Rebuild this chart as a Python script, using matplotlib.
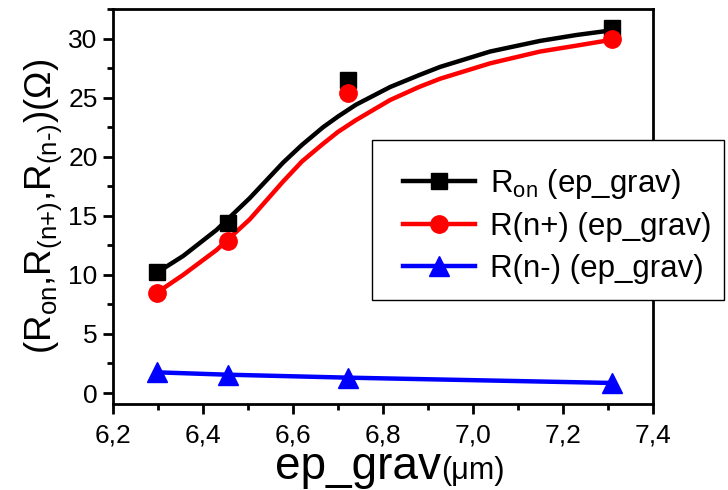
import numpy as np
import matplotlib.pyplot as plt
from matplotlib.lines import Line2D
from matplotlib.patches import Rectangle
from matplotlib.ticker import MultipleLocator, FuncFormatter

plt.rcParams['font.family'] = ['Liberation Sans', 'DejaVu Sans']
plt.rcParams['mathtext.fontset'] = 'custom'
plt.rcParams['mathtext.rm'] = 'Liberation Sans'
plt.rcParams['mathtext.it'] = 'Liberation Sans'

# measured points
ep_grav = [6.298, 6.455, 6.722, 7.309]
r_on = [10.2, 14.4, 26.5, 30.9]
r_nplus = [8.5, 12.9, 25.4, 30.0]
r_nminus = [1.75, 1.55, 1.3, 0.85]

# fitted curves
fit_x = [6.298, 6.356, 6.430, 6.504, 6.578, 6.620, 6.667, 6.700, 6.740,
         6.816, 6.880, 6.927, 7.038, 7.149, 7.230, 7.309]
fit_on = [10.2, 11.6, 13.8, 16.5, 19.5, 21.0, 22.5, 23.4, 24.4,
          25.9, 26.9, 27.6, 28.9, 29.8, 30.3, 30.7]
fit_nplus = [8.5, 10.0, 12.1, 14.7, 17.9, 19.6, 21.1, 22.1, 23.1,
             24.8, 25.9, 26.6, 27.9, 28.9, 29.4, 29.9]

labels = [r'R$_{\mathregular{on}}$ (ep_grav)', 'R(n+) (ep_grav)', 'R(n-) (ep_grav)']

fig = plt.figure(figsize=(7.28, 4.9), dpi=100)
ax = fig.add_axes([113 / 728, 1 - 404 / 490, 540 / 728, 395 / 490])

lw = 3.2
ax.plot(fit_x, fit_on, color='black', lw=lw, zorder=2)
ax.plot(fit_x, fit_nplus, color='red', lw=lw, zorder=2)
ax.plot(ep_grav, r_on, ls='none', marker='s', ms=11.5, color='black', zorder=3)
ax.plot(ep_grav, r_nplus, ls='none', marker='o', ms=12.5, color='red', zorder=3)
ax.plot(ep_grav, r_nminus, color='blue', lw=lw, marker='^', ms=15, zorder=3)

ax.set_xlim(6.2, 7.4)
ax.set_ylim(-0.93, 32.5)
ax.xaxis.set_major_locator(MultipleLocator(0.2))
ax.xaxis.set_minor_locator(MultipleLocator(0.1))
ax.yaxis.set_major_locator(MultipleLocator(5))
ax.yaxis.set_minor_locator(MultipleLocator(2.5))
ax.xaxis.set_major_formatter(FuncFormatter(lambda v, p: f'{v:.1f}'.replace('.', ',')))
ax.yaxis.set_major_formatter(FuncFormatter(lambda v, p: f'{v:.0f}'))

for s in ax.spines.values():
    s.set_linewidth(2)
ax.tick_params(which='both', direction='out', top=False, right=False, width=2, labelsize=19)
ax.tick_params(which='major', length=7)
ax.tick_params(which='minor', length=4.5)
ax.tick_params(axis='x', which='major', pad=7)
ax.tick_params(axis='y', which='major', pad=4)

ax.set_ylabel(r'(R$_{\mathregular{on}}$,R$_{\text{(n+)}}$,R$_{\text{(n-)}}$)(Ω)', fontsize=26.5)
ax.yaxis.set_label_coords(-0.09, 0.5)

# x label: smaller unit part
ax.text(0.607, -0.19, 'ep_grav', transform=ax.transAxes, ha='right', va='baseline', fontsize=33)
ax.text(0.607, -0.19, '(μm)', transform=ax.transAxes, ha='left', va='baseline', fontsize=22)

# legend box
box = Rectangle((372 / 728, 1 - 300 / 490), 352 / 728, 160 / 490, transform=fig.transFigure,
                facecolor='white', edgecolor='black', lw=1, clip_on=False, zorder=4)
ax.add_patch(box)

handles = [
    Line2D([], [], color='black', lw=lw, marker='s', ms=11.5),
    Line2D([], [], color='red', lw=lw, marker='o', ms=12.5),
    Line2D([], [], color='blue', lw=lw, marker='^', ms=15),
]
leg = ax.legend(handles, labels, loc='upper left', bbox_to_anchor=(403 / 728, 1 - 167 / 490),
                bbox_transform=fig.transFigure, fontsize=22.5, numpoints=1, frameon=False,
                borderaxespad=0, borderpad=0, handlelength=2.3, handletextpad=0.5,
                labelspacing=0.36)
leg.set_zorder(5)

fig.savefig('out.png', dpi=100)
